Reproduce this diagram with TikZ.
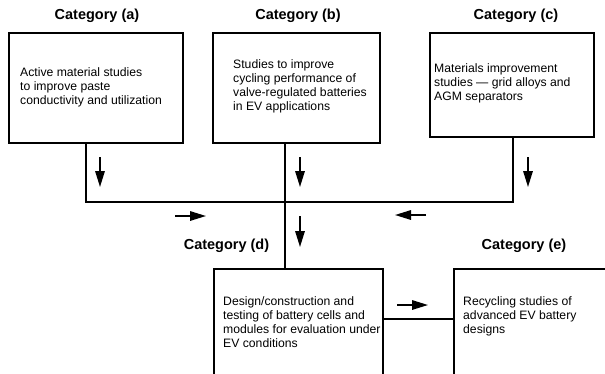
\documentclass[tikz,border=0pt]{standalone}
\usepackage{fontspec}
\setmainfont{Liberation Sans}
\usetikzlibrary{arrows.meta,calc}
\begin{document}
\begin{tikzpicture}[x=1pt,y=-1pt,
  box/.style={draw, line width=1.5pt, anchor=north west, inner sep=0pt},
  txt/.style={anchor=north west, inner sep=0pt, align=left, font=\fontsize{12.2}{14}\selectfont},
  cat/.style={inner sep=0pt, font=\fontsize{14.5}{16}\selectfont\bfseries},
  conn/.style={line width=1.3pt},
  flow/.style={line width=1.6pt, -{Triangle[length=16pt,width=9.5pt]}}
]
\useasboundingbox (0,0) rectangle (605,373);
\clip (0,0) rectangle (605,373);

% boxes
\node[box, minimum width=174pt, minimum height=110pt] (a) at (8,32) {};
\node[box, minimum width=167pt, minimum height=110pt] (b) at (212,32) {};
\node[box, minimum width=164pt, minimum height=104pt] (c) at (429,32) {};
\node[box, minimum width=169pt, minimum height=150pt] (d) at (213,268) {};
\node[box, minimum width=200pt, minimum height=150pt] (e) at (453,268) {};

% category labels
\node[cat] (la) at (97,16) {Category (a)};
\node[cat] (lb) at (298,16) {Category (b)};
\node[cat] (lc) at (516,16) {Category (c)};
\node[cat] (ld) at (226.5,246) {Category (d)};
\node[cat] (le) at (524,246) {Category (e)};

% box texts
\node[txt] (ta) at (20,67.3) {Active material studies\\to improve paste\\conductivity and utilization};
\node[txt] (tb) at (233,59.3) {Studies to improve\\cycling performance of\\valve-regulated batteries\\in EV applications};
\node[txt] (tc) at (434,63.3) {Materials improvement\\studies --- grid alloys and\\AGM separators};
\node[txt] (td) at (223,296.3) {Design/construction and\\testing of battery cells and\\modules for evaluation under\\EV conditions};
\node[txt] (te) at (463,296.3) {Recycling studies of\\advanced EV battery\\designs};

% connector points
\coordinate (aout) at (86,142);
\coordinate (bout) at (285,142);
\coordinate (cout) at (513,136);
\coordinate (hl) at (86,202);
\coordinate (hr) at (513,202);
\coordinate (de) at (0,319);

\draw[conn] (aout) -- (hl) -- (hr) -- (cout);
\draw[conn] (bout) -- (bout |- d.north);
\draw[conn] (d.east |- de) -- (e.west |- de);

% flow arrows
\coordinate (fa1) at (100,157); \coordinate (fa2) at (100,187);
\coordinate (fb1) at (300,157); \coordinate (fb2) at (300,187);
\coordinate (fc1) at (528,157); \coordinate (fc2) at (528,187);
\coordinate (fd1) at (300,216); \coordinate (fd2) at (300,247);
\coordinate (fr1) at (175,216); \coordinate (fr2) at (206,216);
\coordinate (fl1) at (426,215); \coordinate (fl2) at (395,215);
\coordinate (fe1) at (397,305); \coordinate (fe2) at (428,305);

\draw[flow] (fa1) -- (fa2);
\draw[flow] (fb1) -- (fb2);
\draw[flow] (fc1) -- (fc2);
\draw[flow] (fd1) -- (fd2);
\draw[flow] (fr1) -- (fr2);
\draw[flow] (fl1) -- (fl2);
\draw[flow] (fe1) -- (fe2);
\end{tikzpicture}
\end{document}
